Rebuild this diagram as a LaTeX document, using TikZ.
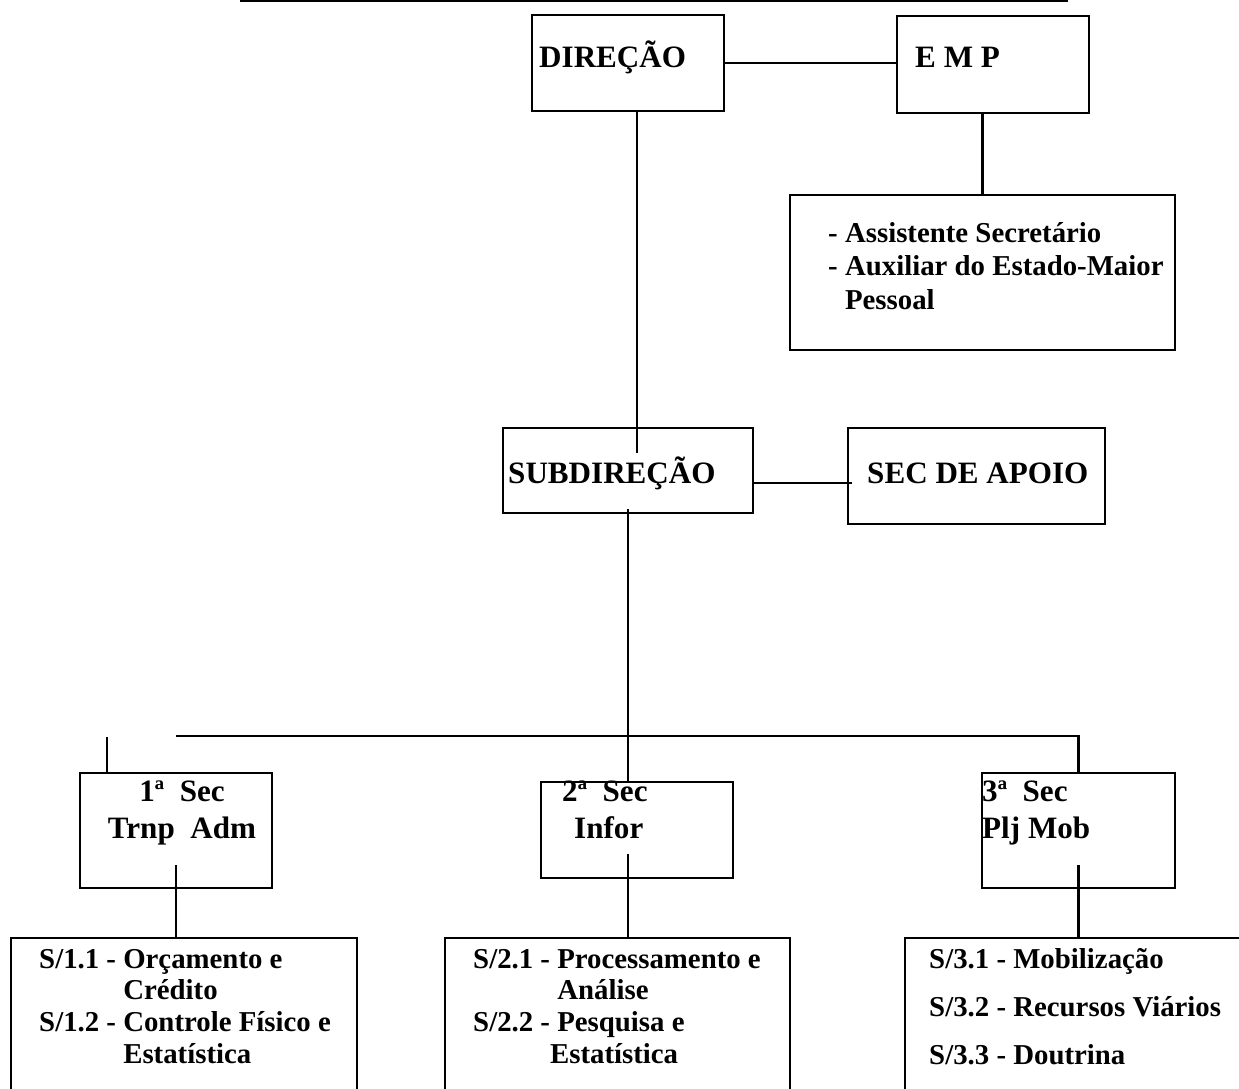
\documentclass[tikz,border=0pt]{standalone}
\usepackage{fontspec}
\setmainfont{Liberation Serif}
\tikzset{
  px/.style={x=0.02cm,y=-0.02cm},
  orgbox/.style 2 args={draw, minimum width=#1*0.02cm, minimum height=#2*0.02cm, inner sep=0pt},
  head/.style={font=\bfseries\fontsize{17.7}{20.5}\selectfont, anchor=base west, inner sep=0pt, align=left},
  lst/.style={font=\bfseries\fontsize{16.4}{18}\selectfont, anchor=base west, inner sep=0pt, align=left}
}

\begin{document}
\begin{tikzpicture}[px, line width=1.4pt]
\clip (0,0) rectangle (1239,1088);
\coordinate (rulel) at (240,1);
\coordinate (ruler) at (1068,1);
\draw (rulel) -- (ruler);
% top
\node[orgbox={192}{96}] (dir) at (628,63) {};
\node[orgbox={192}{97}] (emp) at (993,64.5) {};
\node[orgbox={385}{155}] (asst) at (982.5,272.5) {};
\node[head] (tdir) at (538,68) {DIREÇÃO};
\node[head] (temp) at (914,68) {E M P};
\node[lst, font=\bfseries\fontsize{16.4}{18.8}\selectfont] (tasst) at (827,309)
  {- Assistente Secretário\\- Auxiliar do Estado-Maior\\\hphantom{- }Pessoal};
% middle
\node[orgbox={250}{85}] (sub) at (628,470.5) {};
\node[orgbox={257}{96}] (apoio) at (976.5,476) {};
\node[head] (tsub) at (507,483) {SUBDIREÇÃO};
\node[head] (tapoio) at (866,483) {SEC DE APOIO};
% sections
\node[orgbox={192}{115}] (sec1) at (176,830.5) {};
\node[orgbox={192}{96}] (sec2) at (637,830) {};
\node[orgbox={193}{115}] (sec3) at (1078.5,830.5) {};
\node[head, anchor=base, align=center] (tsec1) at (182,838) {1ª\ \ Sec\\Trnp\ \ Adm};
\node[head] (tsec2) at (561,838) {2ª\ \ Sec\\\hspace*{0.24cm}Infor};
\node[head] (tsec3) at (981,838) {3ª\ \ Sec\\Plj Mob};
% bottom
\node[orgbox={346}{162}] (s1) at (184,1019) {};
\node[orgbox={345}{162}] (s2) at (617.5,1019) {};
\node[orgbox={345}{162}] (s3) at (1077.5,1019) {};
\node[lst] (ts1) at (38,1063)
  {S/1.1 - Orçamento e\\\hphantom{S/1.1 - }Crédito\\S/1.2 - Controle Físico e\\\hphantom{S/1.2 - }Estatística};
\node[lst] (ts2) at (472,1063)
  {S/2.1 - Processamento e\\\hphantom{S/2.1 - }Análise\\S/2.2 - Pesquisa e\\\hphantom{S/2.2 -}Estatística};
\node[lst, font=\bfseries\fontsize{16.4}{27.3}\selectfont] (ts3) at (928,1064)
  {S/3.1 - Mobilização\\S/3.2 - Recursos Viários\\S/3.3 - Doutrina};
% links
\coordinate (subin) at (637,453);
\coordinate (apoioin) at (852,483);
\coordinate (subout) at (628,509);
\coordinate (barl) at (176,736);
\coordinate (stubtop) at (107,737);
\coordinate (sec1out) at (176,865);
\coordinate (sec2out) at (628,854);
\coordinate (sec3out) at (1078.5,865);
\draw (dir.east) -- (dir.east -| emp.west);
\draw (dir.south -| subin) -- (subin);
\draw (emp.south -| asst.north) -- (asst.north);
\draw (sub.east |- apoioin) -- (apoioin);
\draw (subout) -- (subout |- sec2.north);
\draw (barl) -| (sec3.north);
\draw (stubtop) -- (stubtop |- sec1.north);
\draw (sec1out) -- (sec1out |- s1.north);
\draw (sec2out) -- (sec2out |- s2.north);
\draw (sec3out) -- (sec3out |- s3.north);
\end{tikzpicture}
\end{document}
